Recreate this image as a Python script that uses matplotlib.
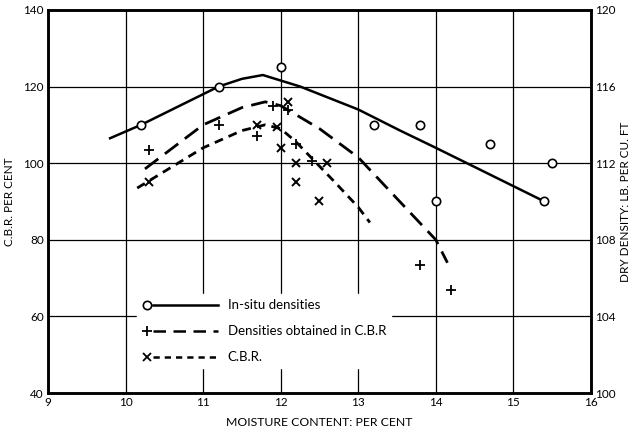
import matplotlib
matplotlib.use("Agg")
import numpy as np
import matplotlib.pyplot as plt
from matplotlib.lines import Line2D
from matplotlib.legend_handler import HandlerLine2DCompound

plt.rcParams["font.family"] = ["Lato", "DejaVu Sans"]

# in-situ densities (lb per cu ft)
insitu_x = [10.2, 11.2, 12.0, 13.2, 13.8, 14.7, 15.5, 15.4, 14.0]
insitu_d = [114.0, 116.0, 117.0, 114.0, 114.0, 113.0, 112.0, 110.0, 110.0]
insitu_curve_x = [9.8, 10.2, 11.2, 11.5, 11.77, 12.25, 13.0, 13.54, 14.0, 15.0, 15.4]
insitu_curve_d = [113.3, 114.0, 116.0, 116.4, 116.6, 116.0, 114.8, 113.7, 112.8, 110.8, 110.0]

# densities obtained in C.B.R. mould
cbr_dens_x = [10.3, 11.2, 11.7, 11.9, 12.1, 12.2, 12.4, 13.8, 14.2]
cbr_dens_d = [112.7, 114.0, 113.4, 115.0, 114.8, 113.0, 112.1, 106.7, 105.4]
cbr_dens_curve_x = [10.25, 11.0, 11.5, 11.8, 12.0, 12.5, 13.0, 13.65, 14.0, 14.15]
cbr_dens_curve_d = [111.7, 114.0, 114.9, 115.2, 115.0, 113.8, 112.3, 109.5, 108.0, 106.8]

# C.B.R. values (per cent), left-hand axis
cbr_x = [10.3, 11.7, 11.95, 12.0, 12.1, 12.2, 12.2, 12.5, 12.6]
cbr_v = [95, 110, 109.5, 104, 116, 100, 95, 90, 100]
cbr_curve_x = [10.15, 11.0, 11.5, 11.8, 12.0, 12.2, 12.7, 13.0, 13.15]
cbr_curve_v = [93.5, 104.0, 108.5, 110.0, 109.0, 105.5, 95.0, 88.5, 84.5]

x_ticks = [9, 10, 11, 12, 13, 14, 15, 16]
cbr_ticks = [40, 60, 80, 100, 120, 140]
dens_ticks = [100, 104, 108, 112, 116, 120]


class MarkerLeft(HandlerLine2DCompound):
    # marker sits at the left end of the legend line, as in the original
    def get_xdata(self, legend, xdescent, ydescent, width, height, fontsize):
        xdata = np.array([-xdescent + 0.14 * width, -xdescent + width])
        return xdata, np.array([-xdescent + 0.06 * width])


fig = plt.figure(figsize=(6.32, 4.30), dpi=100)
ax = fig.add_axes([0.076, 0.086, 0.859, 0.891])
ax2 = ax.twinx()

ax.set_xlim(9, 16)
ax.set_ylim(40, 140)
ax2.set_ylim(100, 120)
ax.set_xticks(x_ticks)
ax.set_yticks(cbr_ticks)
ax2.set_yticks(dens_ticks)
ax.grid(True, color="black", linewidth=0.9)
ax.set_axisbelow(True)

for a in (ax, ax2):
    for s in a.spines.values():
        s.set_linewidth(1.8)
    a.tick_params(length=0, labelsize=8.5, pad=3)

# in-situ
ax2.plot(insitu_curve_x, insitu_curve_d, color="black", lw=1.8)
ax2.plot(insitu_x, insitu_d, "o", ms=6, mfc="white", mec="black", mew=1.2, ls="none")

# densities in C.B.R.
ax2.plot(cbr_dens_curve_x, cbr_dens_curve_d, color="black", lw=2.0, dashes=(6, 3))
ax2.plot(cbr_dens_x, cbr_dens_d, "+", ms=7, mec="black", mew=1.3, ls="none")

# C.B.R.
ax.plot(cbr_curve_x, cbr_curve_v, color="black", lw=2.0, dashes=(3.2, 2.2))
ax.plot(cbr_x, cbr_v, "x", ms=6, mec="black", mew=1.4, ls="none")

ax.set_ylabel("C.B.R. PER CENT", fontsize=8.5, labelpad=6)
ax2.set_ylabel("DRY DENSITY: LB. PER CU. FT", fontsize=8.5, labelpad=3)
ax.set_xlabel("MOISTURE CONTENT: PER CENT", fontsize=8.8, labelpad=6)

h1 = Line2D([], [], color="black", lw=1.8, marker="o", ms=6,
            mfc="white", mec="black", mew=1.2)
h2 = Line2D([], [], color="black", lw=1.8, dashes=(5, 3),
            marker="+", ms=7, mec="black", mew=1.3)
h3 = Line2D([], [], color="black", lw=1.8, dashes=(2.5, 2),
            marker="x", ms=5.5, mec="black", mew=1.3)
leg = ax2.legend([h1, h2, h3],
                 ["In-situ densities", "Densities obtained in C.B.R", "C.B.R."],
                 handler_map={Line2D: MarkerLeft()},
                 loc="upper left", bbox_to_anchor=(0.164, 0.258),
                 borderaxespad=0, frameon=True, framealpha=1, fancybox=False,
                 edgecolor="white", fontsize=9.5, handlelength=5.7,
                 labelspacing=1.05, handletextpad=0.76)

fig.savefig("out.png", dpi=100)
